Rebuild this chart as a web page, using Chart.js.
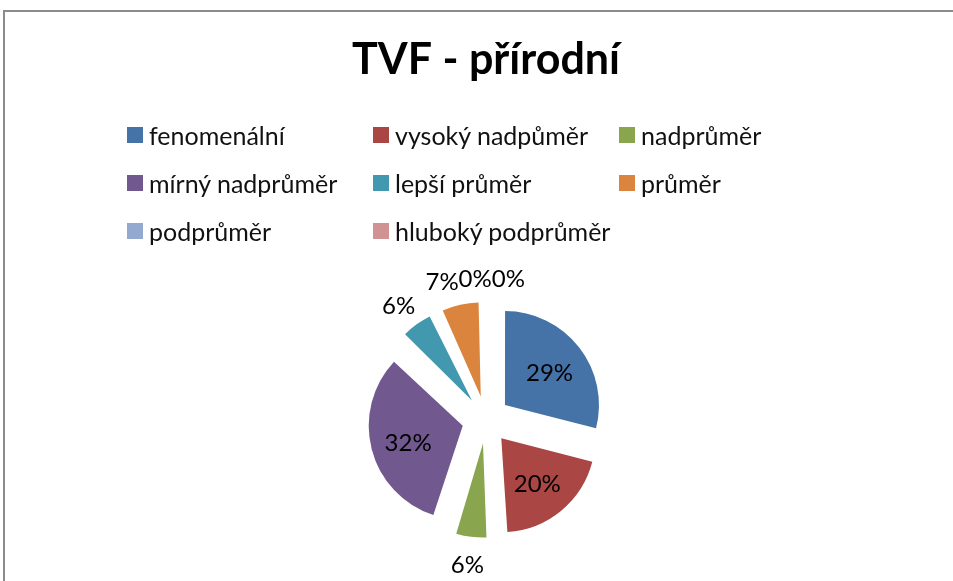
<!DOCTYPE html>
<html>
<head>
<meta charset="utf-8">
<script src="https://cdn.jsdelivr.net/npm/chart.js@4/dist/chart.umd.min.js"></script>
<style>
  body { margin: 0; background: #fff; overflow: hidden; }
  #frame {
    position: absolute; left: 3px; top: 10px; width: 980px; height: 600px;
    border-top: 2px solid #8c8c8c; border-left: 2px solid #8c8c8c;
  }
  #chart { position: absolute; left: 0; top: 0; }
  #legend {
    position: absolute; left: 127px; top: 123px;
    display: grid; grid-template-columns: 246px 246px 246px; grid-auto-rows: 48px;
    font-family: Lato, sans-serif; font-size: 25px; color: #111;
  }
  #legend .item { display: flex; align-items: center; height: 24px; white-space: nowrap; }
  #legend .box { width: 16px; height: 16px; margin-right: 6px; flex: none; }
</style>
</head>
<body>
<div id="frame"></div>
<canvas id="chart" width="953" height="581"></canvas>
<div id="legend"></div>
<script>
var categories = ['fenomenální', 'vysoký nadpůměr', 'nadprůměr', 'mírný nadprůměr',
                  'lepší průměr', 'průměr', 'podprůměr', 'hluboký podprůměr'];
var shares = [29, 20, 6, 32, 6, 7, 0, 0];
var sliceColors = ['#4572A7', '#AA4643', '#89A54E', '#71588F',
                   '#4198AF', '#DB843D', '#93A9CF', '#D09293'];

// ArcElement grows thin exploded slices by offset/4 * (1 - sin(circumference));
// take that back out so every slice keeps the same radius
var evenRadius = {
    id: 'evenRadius',
    beforeDatasetsDraw: function (chart) {
        var meta = chart.getDatasetMeta(0);
        var base = meta.controller.outerRadius;
        meta.data.forEach(function (arc) {
            var shift = (arc.options.offset || 0) / 4;
            var circ = arc.endAngle - arc.startAngle;
            arc.outerRadius = base - shift * (1 - Math.sin(Math.min(Math.PI, circ)));
        });
    }
};

// percent labels: big slices inside, small ones outside, pushed apart if they collide
var pctLabels = {
    id: 'pctLabels',
    afterDatasetsDraw: function (chart) {
        var ctx = chart.ctx;
        var meta = chart.getDatasetMeta(0);
        var r = meta.controller.outerRadius;
        var outside = [];
        ctx.save();
        ctx.font = '24px Lato';
        ctx.fillStyle = '#000';
        ctx.textBaseline = 'middle';
        ctx.textAlign = 'center';
        meta.data.forEach(function (arc, i) {
            var shift = (arc.options.offset || 0) / 4;
            var mid = (arc.startAngle + arc.endAngle) / 2;
            var dx = Math.cos(mid), dy = Math.sin(mid);
            var text = shares[i] + '%';
            var w = ctx.measureText(text).width;
            if (shares[i] >= 10) {
                var d = shift + r * 0.6;
                ctx.fillText(text, arc.x + dx * d, arc.y + dy * d + 3);
            } else {
                var a = shift + r + 14;
                outside.push({
                    text: text, w: w,
                    x: arc.x + dx * a + dx * w / 2,
                    y: arc.y + dy * a + dy * 12
                });
            }
        });
        // spread overlapping outside labels sideways
        for (var k = 0; k < 20; k++) {
            for (var i = 0; i < outside.length; i++) {
                for (var j = i + 1; j < outside.length; j++) {
                    var A = outside[i], B = outside[j];
                    if (Math.abs(A.y - B.y) > 20) continue;
                    var gap = (A.w + B.w) / 2 - Math.abs(B.x - A.x);
                    if (gap <= 0) continue;
                    var sign = B.x >= A.x ? 1 : -1;
                    A.x -= sign * gap / 2;
                    B.x += sign * gap / 2;
                }
            }
        }
        outside.forEach(function (l) {
            ctx.fillText(l.text, l.x, l.y + 3);
        });
        ctx.restore();
    }
};

var chart = new Chart(document.getElementById('chart'), {
    type: 'pie',
    data: {
        labels: categories,
        datasets: [{
            data: shares,
            backgroundColor: sliceColors,
            borderWidth: 0,
            offset: 96
        }]
    },
    options: {
        responsive: false,
        animation: false,
        radius: 94,
        layout: { padding: { left: 19, right: 0, top: 0, bottom: 0 } },
        plugins: {
            legend: { display: false },
            tooltip: { enabled: false },
            title: {
                display: true,
                text: 'TVF - přírodní',
                color: '#000',
                font: { family: 'Lato', size: 43, weight: 'bold' },
                padding: { top: 34, bottom: 173 }
            }
        }
    },
    plugins: [evenRadius, pctLabels]
});

var legend = document.getElementById('legend');
categories.forEach(function (name, i) {
    var item = document.createElement('div');
    item.className = 'item';
    item.innerHTML = '<span class="box" style="background:' + sliceColors[i] + '"></span>' + name;
    legend.appendChild(item);
});
</script>
</body>
</html>
